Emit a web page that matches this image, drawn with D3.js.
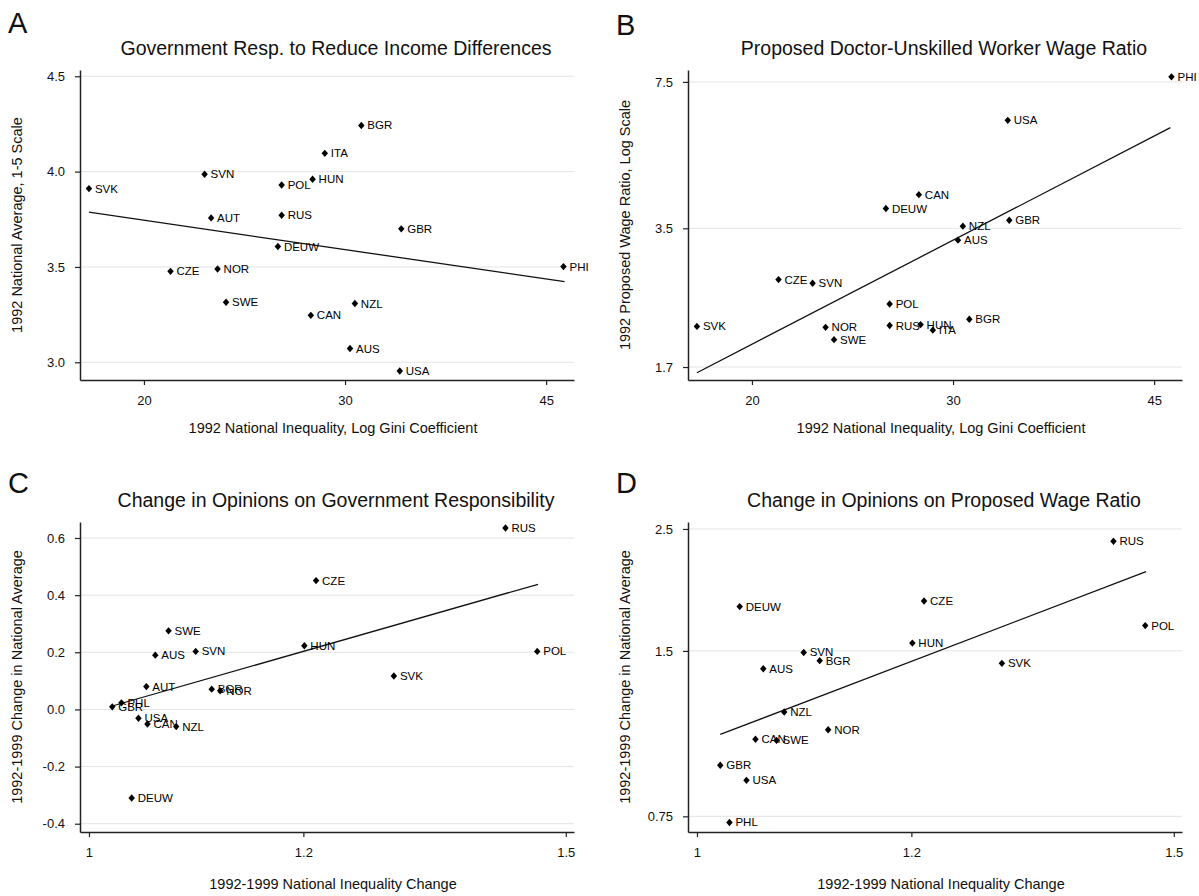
<!DOCTYPE html>
<html>
<head>
<meta charset="utf-8">
<script src="https://cdn.jsdelivr.net/npm/d3@7"></script>
<style>
body { margin: 0; background: #fff; }
text { font-family: "Liberation Sans", Arial, sans-serif; fill: #111; }
</style>
</head>
<body>
<svg id="chart" width="1199" height="896"></svg>
<script>
// ---- data: 1992 levels (panels A, B) ----
var levelCodes = ["SVK", "CZE", "SVN", "AUT", "NOR", "SWE", "DEUW", "POL", "RUS", "CAN",
                  "HUN", "ITA", "AUS", "NZL", "BGR", "GBR", "USA", "PHI"];
var gini1992 = [17.9, 21.1, 22.6, 22.9, 23.2, 23.6, 26.2, 26.4, 26.4, 28.0,
                28.1, 28.8, 30.3, 30.6, 31.0, 33.6, 33.5, 46.6];
var govResp1992 = [3.911, 3.477, 3.986, 3.757, 3.489, 3.315, 3.607, 3.930, 3.771, 3.246,
                   3.960, 4.096, 3.072, 3.308, 4.242, 3.700, 2.954, 3.502];
var wageRatio1992 = [2.10, 2.68, 2.63, null, 2.09, 1.96, 3.88, 2.36, 2.11, 4.17,
                     2.12, 2.06, 3.29, 3.54, 2.18, 3.65, 6.14, 7.70];

// ---- data: 1992-1999 changes (panels C, D) ----
var changeCodes = ["GBR", "PHL", "DEUW", "USA", "AUT", "CAN", "AUS", "SWE", "NZL", "SVN",
                   "BGR", "NOR", "HUN", "CZE", "SVK", "RUS", "POL"];
var giniChange = [1.020, 1.028, 1.037, 1.043, 1.050, 1.051, 1.058, 1.070, 1.077, 1.095,
                  1.110, 1.118, 1.201, 1.213, 1.296, 1.425, 1.464];
var govRespChange = [0.009, 0.023, -0.310, -0.031, 0.080, -0.051, 0.190, 0.275, -0.060, 0.203,
                     0.071, 0.065, 0.223, 0.451, 0.117, 0.635, 0.203];
var wageRatioChange = [0.929, 0.731, 1.806, 0.872, null, 1.036, 1.392, 1.031, 1.161, 1.490,
                       1.440, 1.078, 1.550, 1.849, 1.424, 2.375, 1.668];

// ---- fitted lines (end points) ----
var fitA = [[17.9, 3.787], [46.7, 3.423]];
var fitB = [[17.9, 1.65], [46.5, 5.91]];
var fitC = [[1.020, 0.012], [1.465, 0.438]];
var fitD = [[1.020, 1.057], [1.465, 2.09]];

// ---- ticks ----
var giniTicks = [20, 30, 45];
var changeTicks = [1, 1.2, 1.5];
var govTicks = [3.0, 3.5, 4.0, 4.5];
var wageTicks = [1.7, 3.5, 7.5];
var govChangeTicks = [-0.4, -0.2, 0.0, 0.2, 0.4, 0.6];
var wageChangeTicks = [0.75, 1.5, 2.5];

var panels = [
    { letter: "A", ox: 0, oy: 0, letterY: 33,
      title: "Government Resp. to Reduce Income Differences",
      xTitle: "1992 National Inequality, Log Gini Coefficient",
      yTitle: "1992 National Average, 1-5 Scale",
      codes: levelCodes, xs: gini1992, ys: govResp1992, fit: fitA,
      x: d3.scaleLog().domain([17.58, 47.6]), xTicks: giniTicks, xFmt: d3.format("d"),
      y: d3.scaleLinear().domain([2.907, 4.533]), yTicks: govTicks, yFmt: d3.format(".1f") },
    { letter: "B", ox: 608, oy: 0, letterY: 35,
      title: "Proposed Doctor-Unskilled Worker Wage Ratio",
      xTitle: "1992 National Inequality, Log Gini Coefficient",
      yTitle: "1992 Proposed Wage Ratio, Log Scale",
      codes: levelCodes, xs: gini1992, ys: wageRatio1992, fit: fitB,
      x: d3.scaleLog().domain([17.58, 47.6]), xTicks: giniTicks, xFmt: d3.format("d"),
      y: d3.scaleLog().domain([1.589, 7.98]), yTicks: wageTicks, yFmt: d3.format(".1f") },
    { letter: "C", ox: 0, oy: 452, letterY: 41,
      title: "Change in Opinions on Government Responsibility",
      xTitle: "1992-1999 National Inequality Change",
      yTitle: "1992-1999 Change in National Average",
      codes: changeCodes, xs: giniChange, ys: govRespChange, fit: fitC,
      x: d3.scaleLog().domain([0.9924, 1.5105]), xTicks: changeTicks, xFmt: function (d) { return String(d); },
      y: d3.scaleLinear().domain([-0.429, 0.656]), yTicks: govChangeTicks,
      yFmt: function (d) { return d3.format(".1f")(d).replace("\u2212", "-"); } },
    { letter: "D", ox: 608, oy: 452, letterY: 41,
      title: "Change in Opinions on Proposed Wage Ratio",
      xTitle: "1992-1999 National Inequality Change",
      yTitle: "1992-1999 Change in National Average",
      codes: changeCodes, xs: giniChange, ys: wageRatioChange, fit: fitD,
      x: d3.scaleLog().domain([0.9924, 1.5105]), xTicks: changeTicks, xFmt: function (d) { return String(d); },
      y: d3.scaleLog().domain([0.7024, 2.574]), yTicks: wageChangeTicks, yFmt: function (d) { return String(d); } }
];

var svg = d3.select("#chart");

var drawPanel = function (p) {
    var left = p.ox + 80, right = p.ox + 574,
        top = p.oy + 70, bottom = p.oy + 380;
    p.x.range([left, right]);
    p.y.range([bottom, top]);
    var g = svg.append("g");

    g.append("text")
        .attr("x", p.ox + 8).attr("y", p.oy + p.letterY)
        .style("font-size", "29px")
        .text(p.letter);

    g.append("text")
        .attr("x", (left + right) / 2 + 9).attr("y", p.oy + 55)
        .attr("text-anchor", "middle")
        .style("font-size", "19.5px")
        .text(p.title);

    // grid
    g.selectAll(".grid").data(p.yTicks).enter()
        .append("line")
        .attr("x1", left).attr("x2", right)
        .attr("y1", function (d) { return p.y(d); })
        .attr("y2", function (d) { return p.y(d); })
        .style("stroke", "#e4e4e4").style("stroke-width", 1);

    var yAxis = g.append("g")
        .attr("transform", "translate(" + left + ",0)")
        .call(d3.axisLeft(p.y).tickValues(p.yTicks).tickFormat(p.yFmt)
            .tickSize(5).tickSizeOuter(0).tickPadding(10));
    var xAxis = g.append("g")
        .attr("transform", "translate(0," + bottom + ")")
        .call(d3.axisBottom(p.x).tickValues(p.xTicks).tickFormat(p.xFmt)
            .tickSize(5).tickSizeOuter(0).tickPadding(11));
    [yAxis, xAxis].forEach(function (a) {
        a.select(".domain").style("stroke", "#222").style("stroke-width", 1.5);
        a.selectAll(".tick line").style("stroke", "#222").style("stroke-width", 1.2);
        a.selectAll(".tick text").style("font-size", "13px").style("font-family", "Liberation Sans, Arial, sans-serif").style("fill", "#111");
    });

    g.append("text")
        .attr("x", (left + right) / 2 + 6).attr("y", bottom + (p.oy ? 57 : 53))
        .attr("text-anchor", "middle")
        .style("font-size", "14.5px")
        .text(p.xTitle);

    g.append("text")
        .attr("transform", "translate(" + (p.ox + 22) + "," + ((top + bottom) / 2) + ") rotate(-90)")
        .attr("text-anchor", "middle")
        .style("font-size", "14.5px")
        .text(p.yTitle);

    // fitted line
    g.append("path")
        .attr("d", d3.line()
            .x(function (d) { return p.x(d[0]); })
            .y(function (d) { return p.y(d[1]); })(p.fit))
        .style("fill", "none").style("stroke", "#111").style("stroke-width", 1.3);

    var pts = p.codes.map(function (c, i) { return { code: c, x: p.xs[i], y: p.ys[i] }; })
        .filter(function (d) { return d.y !== null; });

    var diamond = d3.symbol().type(d3.symbolSquare).size(27);
    var node = g.selectAll(".pt").data(pts).enter().append("g")
        .attr("transform", function (d) { return "translate(" + p.x(d.x) + "," + p.y(d.y) + ")"; });
    node.append("path")
        .attr("d", diamond)
        .attr("transform", "scale(0.88,1) rotate(45)")
        .style("fill", "#000");
    node.append("text")
        .attr("x", 6).attr("y", 4)
        .style("font-size", "11.5px")
        .style("fill", "#000")
        .text(function (d) { return d.code; });
};

panels.forEach(drawPanel);
</script>
</body>
</html>
